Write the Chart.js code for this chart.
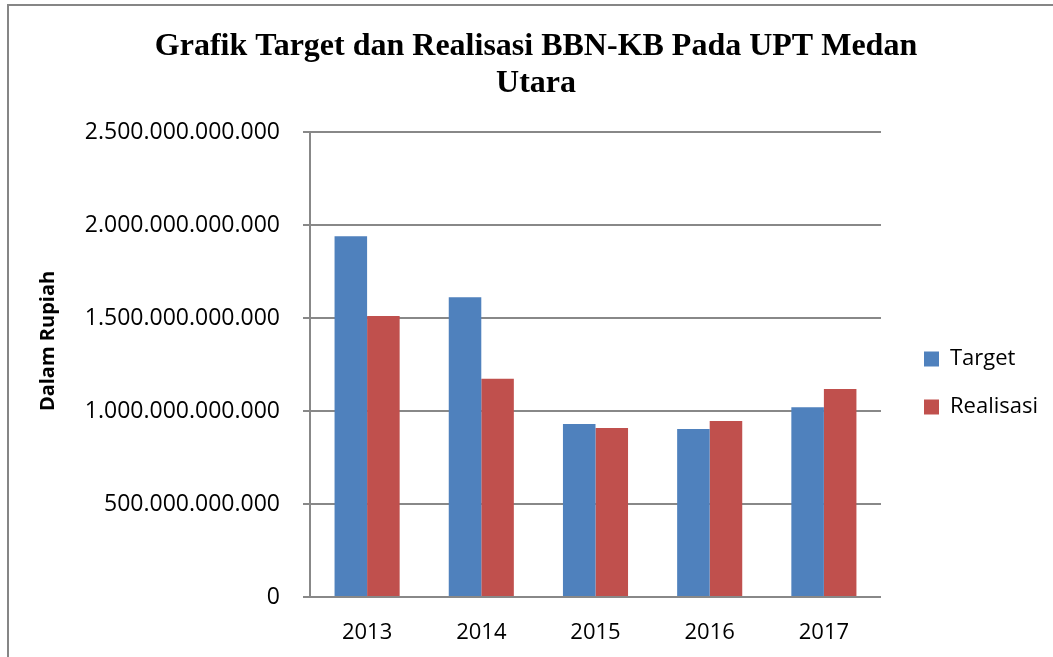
<!DOCTYPE html>
<html>
<head>
<meta charset="utf-8">
<script src="https://cdn.jsdelivr.net/npm/chart.js@4"></script>
<style>
    html, body { margin: 0; padding: 0; background: #fff; }
    #wrap { position: relative; width: 1053px; height: 657px; overflow: hidden; }
    #frame {
        position: absolute; left: 7px; top: 4px; width: 1100px; height: 700px;
        border-left: 2px solid #868686; border-top: 2px solid #868686;
    }
    canvas { position: absolute; left: 0; top: 0; }
</style>
</head>
<body>
<div id="wrap">
    <div id="frame"></div>
    <canvas id="bbnChart" width="1053" height="657"></canvas>
</div>
<script>
// Data (Rupiah)
const years = ['2013', '2014', '2015', '2016', '2017'];
const targetValues = [1939000000000, 1611000000000, 930000000000, 903000000000, 1020000000000];
const realisasiValues = [1511000000000, 1174000000000, 909000000000, 946000000000, 1118000000000];
const yTicks = [0, 500000000000, 1000000000000, 1500000000000, 2000000000000, 2500000000000];

const titleLines = ['Grafik Target dan Realisasi BBN-KB Pada UPT Medan', 'Utara'];
const yTitle = 'Dalam Rupiah';

const gridColor = '#888888';

/**
 * Format a number with dots as thousand separators
 */
function formatRupiah(value) {
    return String(Math.round(value)).replace(/\B(?=(\d{3})+(?!\d))/g, '.');
}

// Draws the chart title and the rotated y-axis title
const labelsPlugin = {
    id: 'labels',
    afterDraw(chart) {
        const ctx = chart.ctx;
        ctx.save();
        ctx.fillStyle = '#000';
        ctx.textAlign = 'center';
        ctx.textBaseline = 'alphabetic';
        ctx.font = 'bold 32px "Liberation Serif", "Times New Roman", serif';
        ctx.fillText(titleLines[0], 536, 55);
        ctx.fillText(titleLines[1], 536, 92);

        ctx.translate(48, 341);
        ctx.rotate(-Math.PI / 2);
        ctx.textBaseline = 'middle';
        ctx.font = 'bold 20px "Open Sans", sans-serif';
        ctx.fillText(yTitle, 0, 0);
        ctx.restore();
    }
};

const ctx = document.getElementById('bbnChart').getContext('2d');

new Chart(ctx, {
    type: 'bar',
    data: {
        labels: years,
        datasets: [
            {
                label: 'Target',
                data: targetValues,
                backgroundColor: '#4F81BD',
                categoryPercentage: 0.57,
                barPercentage: 1.0
            },
            {
                label: 'Realisasi',
                data: realisasiValues,
                backgroundColor: '#C0504D',
                categoryPercentage: 0.57,
                barPercentage: 1.0
            }
        ]
    },
    options: {
        responsive: false,
        animation: false,
        layout: {
            padding: { top: 132, left: 0, right: 5, bottom: 0 }
        },
        plugins: {
            title: { display: false },
            tooltip: { enabled: false },
            legend: {
                display: true,
                position: 'right',
                fullSize: false,
                title: {
                    display: true,
                    text: '',
                    font: { size: 10 },
                    padding: { top: 12, bottom: 13 }
                },
                labels: {
                    color: '#000',
                    font: { family: 'Open Sans', size: 22 },
                    boxWidth: 15,
                    boxHeight: 15,
                    padding: 26
                }
            }
        },
        scales: {
            x: {
                grid: { display: false },
                border: { display: true, color: gridColor, width: 2 },
                ticks: {
                    color: '#000',
                    font: { family: 'Open Sans', size: 22 },
                    padding: 15,
                    maxRotation: 0
                },
                afterFit: (scale) => { scale.height = 60; }
            },
            y: {
                min: 0,
                max: 2500000000000,
                afterBuildTicks: (scale) => {
                    scale.ticks = yTicks.map(v => ({ value: v }));
                },
                grid: {
                    color: gridColor,
                    lineWidth: 2,
                    tickLength: 7,
                    drawTicks: true
                },
                border: { display: true, color: gridColor, width: 2 },
                ticks: {
                    color: '#000',
                    font: { family: 'Open Sans', size: 23 },
                    padding: 23,
                    callback: (value) => formatRupiah(value)
                },
                afterFit: (scale) => { scale.width = 310; }
            },
            gap: {
                type: 'linear',
                position: 'right',
                display: true,
                grid: { display: false, drawTicks: false },
                border: { display: false },
                ticks: { display: false },
                afterFit: (scale) => { scale.width = 17; }
            }
        }
    },
    plugins: [labelsPlugin]
});
</script>
</body>
</html>
